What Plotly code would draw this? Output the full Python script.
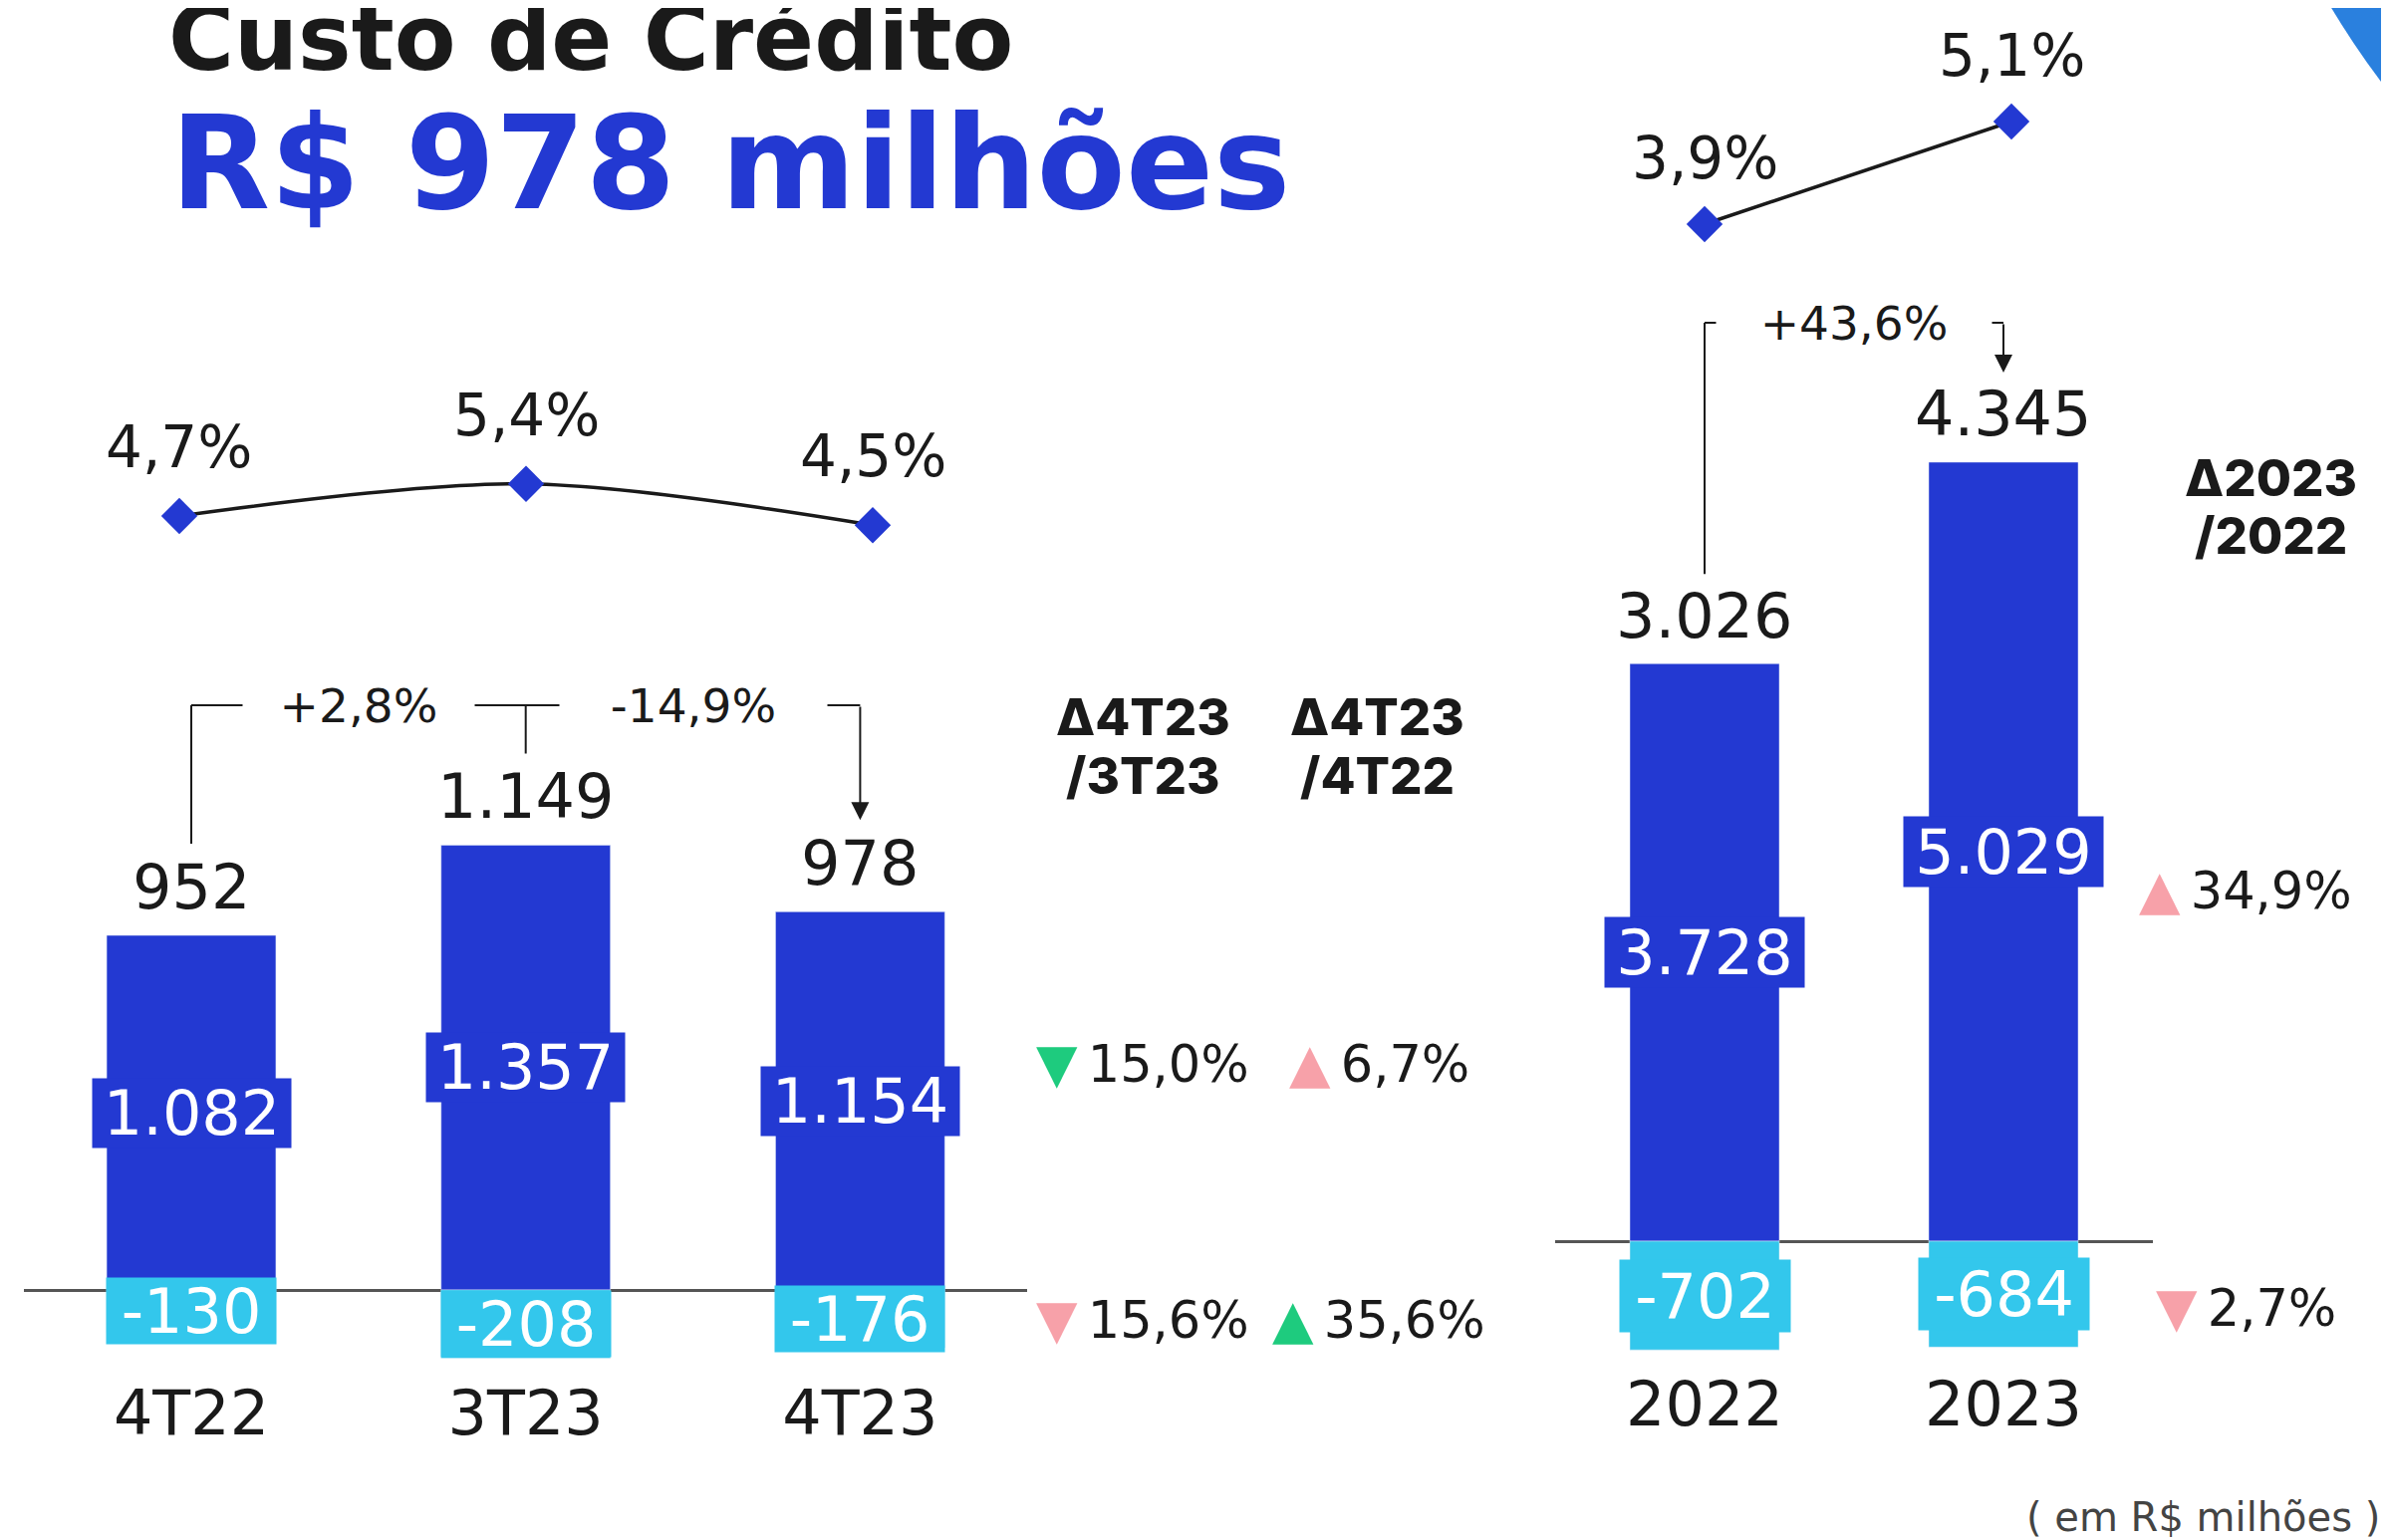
import plotly.graph_objects as go

# ---------------- data ----------------
quarters = ["4T22", "3T23", "4T23"]
quarter_gross = [1082, 1357, 1154]
quarter_recovery = [-130, -208, -176]
quarter_net = [952, 1149, 978]
quarter_rate = [4.7, 5.4, 4.5]
quarter_change = ["+2,8%", "-14,9%"]

years = ["2022", "2023"]
year_gross = [3728, 5029]
year_recovery = [-702, -684]
year_net = [3026, 4345]
year_rate = [3.9, 5.1]
year_change = ["+43,6%"]

delta_q_headers = [["Δ4T23", "/3T23"], ["Δ4T23", "/4T22"]]
delta_q_prev = ["15,0%", "15,6%"]
delta_q_prev_dir = ["down", "down"]
delta_q_prev_good = [True, False]
delta_q_year = ["6,7%", "35,6%"]
delta_q_year_dir = ["up", "up"]
delta_q_year_good = [False, True]
delta_y_header = ["Δ2023", "/2022"]
delta_y = ["34,9%", "2,7%"]
delta_y_dir = ["up", "down"]
delta_y_good = [False, False]

title_text = "Custo de Crédito"
unit_text = "( em R$ milhões )"

# ---------------- style / layout helpers ----------------
W, H = 2398, 1546
OFF = 8  # page body margin
BLUE = "#2339D2"
CYAN = "#33C7EC"
INK = "#1A1A1A"
GOOD = "#1ECB7E"
BAD = "#F7A1A9"
DECO = "#2A80DE"
DECO2 = "#2348D8"
NUMFONT = "DejaVu Sans"
HEADFONT = "Inter"


def px(x):
    return (x - OFF) / W


def py(y):
    return 1 - (y - OFF) / H


def xdom(c0, step, rng):
    return [px(c0 + rng[0] * step), px(c0 + rng[1] * step)]


def ydom(zero_px, scale, rng):
    return [py(zero_px - rng[0] * scale), py(zero_px - rng[1] * scale)]


def fmt_int(v):
    return f"{v:,}".replace(",", ".")


def fmt_pct(v):
    return f"{v:.1f}".replace(".", ",") + "%"


L_ZERO, L_SCALE, L_RNG = 1295, 0.329, [-250, 1900]
R_ZERO, R_SCALE, R_RNG = 1246, 0.1555, [-785, 6300]
LL_ZERO, LL_SCALE, LL_RNG = 734.2, 46.0, [3.5, 6.2]
RL_ZERO, RL_SCALE, RL_RNG = 559.75, 85.83, [3.5, 5.5]
XL_RNG = [-0.5, 2.5]
XR_RNG = [-0.5, 1.5]
XLL_RNG = [-0.4, 2.4]
XRL_RNG = [-0.4, 1.4]

fig = go.Figure()

# bars
fig.add_bar(x=quarters, y=quarter_gross, marker_color=BLUE, width=0.506,
            xaxis="x", yaxis="y", hoverinfo="skip")
fig.add_bar(x=quarters, y=quarter_recovery, marker_color=CYAN, width=0.506,
            xaxis="x", yaxis="y", hoverinfo="skip")
fig.add_bar(x=years, y=year_gross, marker_color=BLUE, width=0.5,
            xaxis="x2", yaxis="y2", hoverinfo="skip")
fig.add_bar(x=years, y=year_recovery, marker_color=CYAN, width=0.5,
            xaxis="x2", yaxis="y2", hoverinfo="skip")

# rate lines
fig.add_scatter(x=quarters, y=quarter_rate, xaxis="x3", yaxis="y3",
                mode="lines+markers", cliponaxis=False, hoverinfo="skip",
                line=dict(color=INK, width=3.5, shape="spline", smoothing=0.9),
                marker=dict(symbol="diamond", size=28, color=BLUE))
fig.add_scatter(x=years, y=year_rate, xaxis="x4", yaxis="y4",
                mode="lines+markers", cliponaxis=False, hoverinfo="skip",
                line=dict(color=INK, width=3.5),
                marker=dict(symbol="diamond", size=28, color=BLUE))

hidden = dict(showgrid=False, zeroline=False, showline=False, ticks="",
              showticklabels=False, fixedrange=True)
TICKFONT = dict(family=NUMFONT, size=62, color=INK)

fig.update_layout(
    width=W, height=H, autosize=False,
    margin=dict(l=0, r=0, t=0, b=0),
    paper_bgcolor="white", plot_bgcolor="rgba(0,0,0,0)",
    showlegend=False, barmode="relative",
    font=dict(family=NUMFONT, color=INK),
    xaxis=dict(domain=xdom(192, 335.7, XL_RNG), anchor="y", type="category",
               range=XL_RNG, showgrid=False, zeroline=False,
               showline=False, ticks="", fixedrange=True,
               tickfont=TICKFONT, ticklabelstandoff=0),
    yaxis=dict(domain=ydom(L_ZERO, L_SCALE, L_RNG), anchor="x", range=L_RNG,
               showgrid=False, showline=False, ticks="", showticklabels=False,
               zeroline=True, zerolinecolor="#555555", zerolinewidth=2.5,
               fixedrange=True),
    xaxis2=dict(domain=xdom(1711, 300, XR_RNG), anchor="y2", type="category",
                range=XR_RNG, showgrid=False, zeroline=False,
                showline=False, ticks="", fixedrange=True,
                tickfont=TICKFONT, ticklabelstandoff=0),
    yaxis2=dict(domain=ydom(R_ZERO, R_SCALE, R_RNG), anchor="x2", range=R_RNG,
                showgrid=False, showline=False, ticks="", showticklabels=False,
                zeroline=True, zerolinecolor="#555555", zerolinewidth=2.5,
                fixedrange=True),
    xaxis3=dict(domain=xdom(180, 348, XLL_RNG), anchor="y3", type="category",
                range=XLL_RNG, **hidden),
    yaxis3=dict(domain=ydom(LL_ZERO, LL_SCALE, LL_RNG), anchor="x3",
                range=LL_RNG, **hidden),
    xaxis4=dict(domain=xdom(1711, 308, XRL_RNG), anchor="y4", type="category",
                range=XRL_RNG, **hidden),
    yaxis4=dict(domain=ydom(RL_ZERO, RL_SCALE, RL_RNG), anchor="x4",
                range=RL_RNG, **hidden),
)


def ann(**kw):
    base = dict(showarrow=False, borderpad=0)
    base.update(kw)
    fig.add_annotation(**base)


NUM = dict(family=NUMFONT, size=62, color=INK)
WNUM = dict(family=NUMFONT, size=62, color="white")
RATE = dict(family=NUMFONT, size=58, color=INK)

# quarterly labels (x given as category index)
for i in range(len(quarters)):
    ann(x=i, y=quarter_gross[i], xref="x", yref="y", yshift=49,
        yanchor="middle", text=fmt_int(quarter_net[i]), font=NUM)
    ann(x=i, y=quarter_gross[i] / 2, xref="x", yref="y", yanchor="middle",
        text=fmt_int(quarter_gross[i]), font=WNUM, bgcolor=BLUE,
        width=199, height=69)
    ann(x=i, y=quarter_recovery[i] / 2, xref="x", yref="y", yanchor="middle",
        text=fmt_int(quarter_recovery[i]), font=WNUM, bgcolor=CYAN,
        width=170, height=66)
    ann(x=i, y=quarter_rate[i], xref="x3", yref="y3", yshift=69,
        yanchor="middle", text=fmt_pct(quarter_rate[i]), font=RATE)

# annual labels
for i in range(len(years)):
    ann(x=i, y=year_gross[i], xref="x2", yref="y2", yshift=48,
        yanchor="middle", text=fmt_int(year_net[i]), font=NUM)
    ann(x=i, y=year_gross[i] / 2, xref="x2", yref="y2", yanchor="middle",
        text=fmt_int(year_gross[i]), font=WNUM, bgcolor=BLUE,
        width=200, height=70)
    ann(x=i, y=year_recovery[i] / 2, xref="x2", yref="y2", yanchor="middle",
        text=fmt_int(year_recovery[i]), font=WNUM, bgcolor=CYAN,
        width=171, height=72)
    ann(x=i, y=year_rate[i], xref="x4", yref="y4", yshift=66,
        yanchor="middle", text=fmt_pct(year_rate[i]), font=RATE)

# change brackets - quarterly
BR_L = (L_ZERO - 708) / L_SCALE
OFF_L = 92 / L_SCALE
LINE = dict(color=INK, width=2)
CHG = dict(family=NUMFONT, size=47, color=INK)
fig.add_shape(type="line", xref="x", yref="y", x0=0, x1=0,
              y0=quarter_gross[0] + OFF_L, y1=BR_L, line=LINE)
fig.add_shape(type="line", xref="x", yref="y", x0=0, x1=2,
              y0=BR_L, y1=BR_L, line=LINE)
fig.add_shape(type="line", xref="x", yref="y", x0=1, x1=1,
              y0=BR_L, y1=quarter_gross[1] + OFF_L, line=LINE)
fig.add_annotation(x=2, y=quarter_gross[2] + OFF_L, xref="x", yref="y",
                   ax=2, ay=BR_L, axref="x", ayref="y", text="",
                   showarrow=True, arrowhead=2, arrowsize=1.8,
                   arrowwidth=2, arrowcolor=INK)
for k, (txt, gap) in enumerate(zip(quarter_change, [232, 268])):
    ann(x=k + 0.5, y=BR_L, xref="x", yref="y", yanchor="middle", text=txt,
        font=CHG, bgcolor="white", width=gap, height=50)

# change bracket - annual
BR_R = (R_ZERO - 324) / R_SCALE
OFF_R = 90 / R_SCALE
fig.add_shape(type="line", xref="x2", yref="y2", x0=0, x1=0,
              y0=year_gross[0] + OFF_R, y1=BR_R, line=LINE)
fig.add_shape(type="line", xref="x2", yref="y2", x0=0, x1=1,
              y0=BR_R, y1=BR_R, line=LINE)
fig.add_annotation(x=1, y=year_gross[1] + OFF_R, xref="x2", yref="y2",
                   ax=1, ay=BR_R, axref="x2", ayref="y2", text="",
                   showarrow=True, arrowhead=2, arrowsize=1.8,
                   arrowwidth=2, arrowcolor=INK)
ann(x=0.5, y=BR_R, xref="x2", yref="y2", yanchor="middle", text=year_change[0],
    font=CHG, bgcolor="white", width=276, height=50)


# delta columns
def tri(direction, good):
    g = "▲" if direction == "up" else "▼"
    c = GOOD if good else BAD
    return f'<span style="color:{c};font-size:54px">{g}</span>\u2009'


HEAD = dict(family=HEADFONT, size=51, color=INK, weight=800)
for cx, lines in zip([1147, 1382], delta_q_headers):
    for ly, t in zip([719, 778], lines):
        ann(x=px(cx), y=py(ly), xref="paper", yref="paper", xanchor="center",
            yanchor="middle", text=t, font=HEAD)
for ly, t in zip([479, 537], delta_y_header):
    ann(x=px(2279), y=py(ly), xref="paper", yref="paper", xanchor="center",
        yanchor="middle", text=t, font=HEAD)

PCT = dict(family=NUMFONT, size=51, color=INK)
for row_y, v, d, g in zip([1067, 1324], delta_q_prev, delta_q_prev_dir,
                          delta_q_prev_good):
    ann(x=px(1147), y=py(row_y), xref="paper", yref="paper", xanchor="center",
        yanchor="middle", text=tri(d, g) + v, font=PCT)
for row_y, v, d, g in zip([1067, 1324], delta_q_year, delta_q_year_dir,
                          delta_q_year_good):
    ann(x=px(1384), y=py(row_y), xref="paper", yref="paper", xanchor="center",
        yanchor="middle", text=tri(d, g) + v, font=PCT)
for row_y, v, d, g in zip([893, 1312], delta_y, delta_y_dir, delta_y_good):
    ann(x=px(2254), y=py(row_y), xref="paper", yref="paper", xanchor="center",
        yanchor="middle", text=tri(d, g) + v, font=PCT)

# titles
ann(x=px(168), y=py(38), xref="paper", yref="paper", xanchor="left",
    yanchor="middle", text=title_text,
    font=dict(family=NUMFONT, size=90, color=INK, weight=700))
ann(x=px(170), y=py(164), xref="paper", yref="paper", xanchor="left",
    yanchor="middle", text=f"R$ {quarter_net[-1]} milhões",
    font=dict(family=NUMFONT, size=130, color=BLUE, weight=700))
ann(x=px(2390), y=py(1523), xref="paper", yref="paper", xanchor="right",
    yanchor="middle", text=unit_text,
    font=dict(family=NUMFONT, size=40, color="#444444"))

# corner decorations
CX, CY, CR = 3098, -449, 885
fig.add_shape(type="circle", xref="paper", yref="paper",
              x0=px(CX - CR), x1=px(CX + CR),
              y0=py(CY + CR), y1=py(CY - CR),
              fillcolor=DECO, line=dict(width=0), layer="below")
fig.add_shape(type="path", xref="paper", yref="paper",
              path=f"M {px(-10)},{py(-10)} L {px(22)},{py(-10)} "
                   f"L {px(-10)},{py(25)} Z",
              fillcolor=DECO2, line=dict(width=0), layer="below")

fig.write_html("out.html", config={"displayModeBar": False})
